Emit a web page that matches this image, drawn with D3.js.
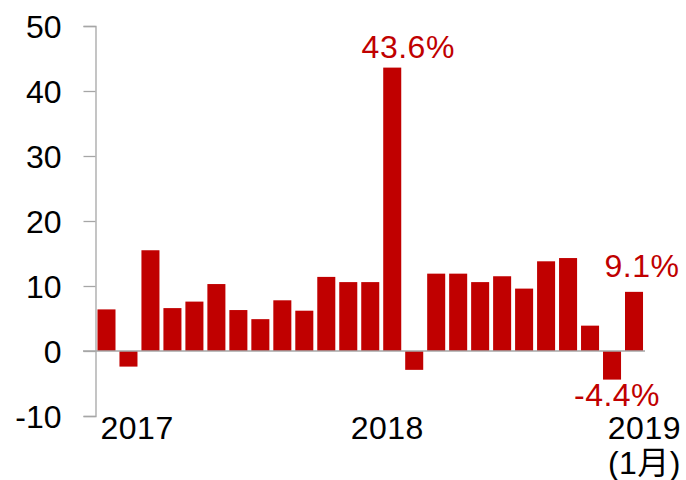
<!DOCTYPE html>
<html>
<head>
<meta charset="utf-8">
<script src="https://cdn.jsdelivr.net/npm/d3@7"></script>
<style>
  html, body { margin: 0; padding: 0; background: #fff; }
  svg { display: block; font-family: "Liberation Sans", Arial, "Noto Sans CJK TC", sans-serif; }
</style>
</head>
<body>
<svg id="chart" width="686" height="480"></svg>
<script>
const months = ["2017-01","2017-02","2017-03","2017-04","2017-05","2017-06","2017-07","2017-08","2017-09","2017-10","2017-11","2017-12",
                "2018-01","2018-02","2018-03","2018-04","2018-05","2018-06","2018-07","2018-08","2018-09","2018-10","2018-11","2018-12",
                "2019-01"];
const values = [6.4, -2.4, 15.5, 6.6, 7.6, 10.3, 6.3, 4.9, 7.8, 6.2, 11.4, 10.6,
                10.6, 43.6, -2.9, 11.9, 11.9, 10.6, 11.5, 9.6, 13.8, 14.3, 3.9, -4.4,
                9.1];
const yTicks = [-10, 0, 10, 20, 30, 40, 50];
const valueLabels = [
  { month: "2018-02", text: "43.6%", dx: 16, dy: -10 },
  { month: "2019-01", text: "9.1%", dx: 8, dy: -15 },
  { month: "2018-12", text: "-4.4%", dx: 5, dy: 26 }
];
const yearLabels = [
  { month: "2017-01", lines: ["2017"] },
  { month: "2018-02", lines: ["2018"] },
  { month: "2019-01", lines: ["2019", "(1月)"] }
];

const svg = d3.select("#chart");
const red = "#c00000";
const axisGray = "#a6a6a6";
const fs = "32px";

const x = d3.scaleBand().domain(months).range([95.5, 645]).paddingInner(0.18).paddingOuter(0.09);
const y = d3.scaleLinear().domain([-10, 50]).range([416, 26]);

// y axis
const yAxis = d3.axisLeft(y).tickValues(yTicks).tickSize(12).tickPadding(22).tickFormat(d => String(d));
const gy = svg.append("g").attr("transform", "translate(95.5,0)").call(yAxis);
gy.select(".domain").attr("stroke", axisGray).attr("stroke-width", 1.3);
gy.selectAll(".tick line").attr("stroke", axisGray).attr("stroke-width", 1.3);
gy.selectAll(".tick text").attr("fill", "#000").style("font-size", fs).attr("dy", "0.36em");

// bars
const data = months.map((m, i) => ({ m, v: values[i] }));
svg.append("g").selectAll("rect").data(data).enter().append("rect")
  .attr("x", d => x(d.m))
  .attr("width", x.bandwidth())
  .attr("y", d => y(Math.max(0, d.v)))
  .attr("height", d => Math.abs(y(d.v) - y(0)))
  .attr("fill", red);

// zero line
svg.append("line")
  .attr("x1", 83).attr("x2", 645)
  .attr("y1", y(0)).attr("y2", y(0))
  .attr("stroke", axisGray).attr("stroke-width", 1.3);

// value labels
const vmap = new Map(data.map(d => [d.m, d.v]));
svg.append("g").selectAll("text").data(valueLabels).enter().append("text")
  .attr("x", d => x(d.month) + x.bandwidth() / 2 + d.dx)
  .attr("y", d => y(vmap.get(d.month)) + d.dy)
  .attr("text-anchor", "middle")
  .attr("fill", red)
  .style("font-size", fs)
  .style("letter-spacing", "0.5px")
  .text(d => d.text);

// year labels
const yearOffsets = { "2017": ["start", -15], "2018": ["middle", -5], "2019": ["end", 47] };
yearLabels.forEach(d => {
  const [anchor, dx] = yearOffsets[d.lines[0]];
  const base = x(d.month) + (anchor === "start" ? x.bandwidth() : x.bandwidth() / 2);
  const t = svg.append("text")
    .attr("x", base + dx)
    .attr("y", 439)
    .attr("text-anchor", anchor)
    .attr("fill", "#000")
    .style("font-size", fs)
    .style("letter-spacing", "0.5px");
  d.lines.forEach((ln, k) => {
    t.append("tspan").attr("x", base + dx).attr("dy", k === 0 ? 0 : 35).text(ln);
  });
});
</script>
</body>
</html>
